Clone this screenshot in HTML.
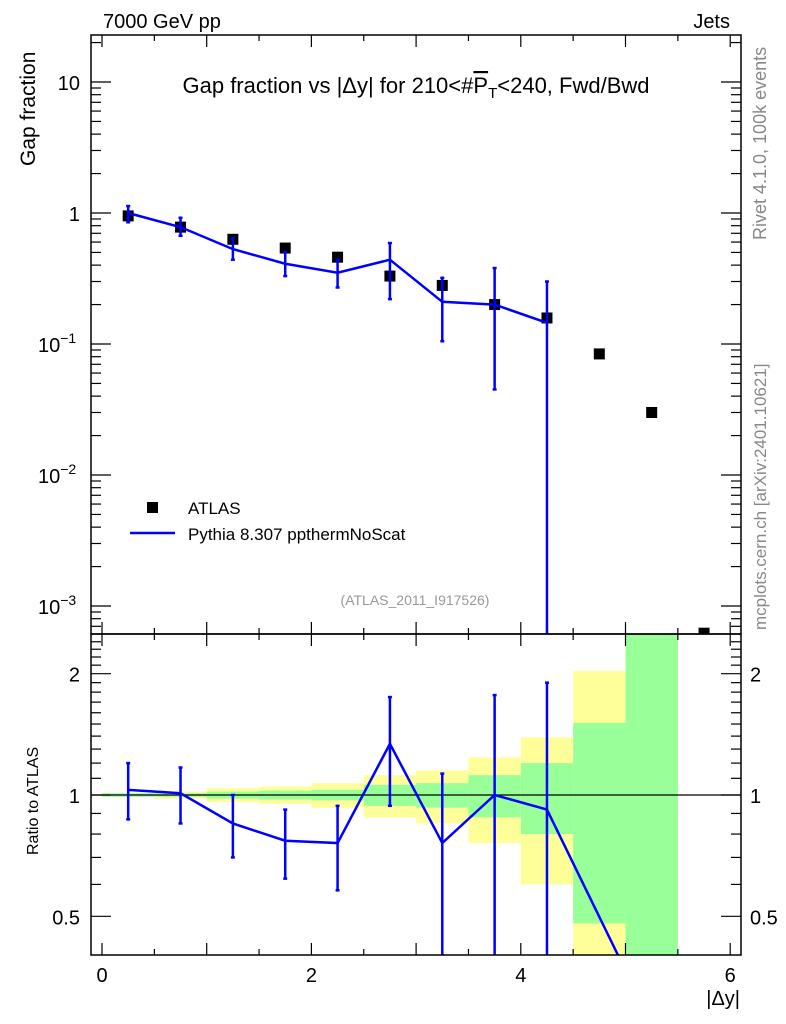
<!DOCTYPE html>
<html><head><meta charset="utf-8">
<style>
html,body{margin:0;background:#fff;overflow:hidden;width:786px;height:1024px;position:relative;}
svg{display:block;font-family:"Liberation Sans",sans-serif;}
</style></head>
<body>
<svg id="c" width="786" height="1024" viewBox="0 0 786 1024" style="position:absolute;left:0;top:0"></svg>
<script>
const xs=[0.25,0.75,1.25,1.75,2.25,2.75,3.25,3.75,4.25,4.75,5.25,5.75];
const dataVals=[0.95,0.78,0.63,0.54,0.46,0.33,0.28,0.20,0.158,0.084,0.030,0.00062];
const mcX=[0.25,0.75,1.25,1.75,2.25,2.75,3.25,3.75,4.25];
const mcVals=[1.0,0.78,0.53,0.41,0.35,0.44,0.21,0.20,0.145];
const mcHi=[1.13,0.92,0.64,0.50,0.44,0.59,0.32,0.38,0.30];
const mcLo=[0.85,0.67,0.44,0.33,0.27,0.22,0.105,0.045,0.0001];
const rX=[0.25,0.75,1.25,1.75,2.25,2.75,3.25,3.75,4.25,5.25];
const rVals=[1.03,1.01,0.85,0.77,0.76,1.34,0.76,1.0,0.92,0.27];
const rHi=[1.20,1.17,1.0,0.92,0.94,1.75,1.13,1.77,1.90,null];
const rLo=[0.87,0.85,0.70,0.62,0.58,0.94,0.01,0.01,0.01,null];
const binLo=[0,0.5,1,1.5,2,2.5,3,3.5,4,4.5,5];
const yelHi=[1.01,1.02,1.04,1.05,1.07,1.12,1.15,1.24,1.39,2.03,5];
const yelLo=[0.99,0.98,0.96,0.95,0.93,0.88,0.85,0.76,0.60,0.30,0.2];
const grnHi=[1.01,1.01,1.02,1.025,1.03,1.06,1.07,1.12,1.20,1.51,5];
const grnLo=[0.99,0.99,0.98,0.975,0.97,0.94,0.93,0.88,0.80,0.48,0.2];

const NS="http://www.w3.org/2000/svg";
const svg=document.getElementById('c');
const L=91,R=741,T=35,M=634,B=955;
const X=v=>102+104.7*v;
const Y=v=>213-131*Math.log10(v);
const RY=v=>795-403*Math.log10(v);
function mk(tag,attrs,parent){const e=document.createElementNS(NS,tag);for(const k in attrs)e.setAttribute(k,attrs[k]);(parent||svg).appendChild(e);return e;}
function txt(x,y,s,attrs){const e=mk('text',Object.assign({x:x,y:y},attrs||{}));e.innerHTML=s;return e;}

const defs=mk('defs',{});
const c1=mk('clipPath',{id:'cu'},defs);mk('rect',{x:L,y:T,width:R-L,height:M-T},c1);
const c2=mk('clipPath',{id:'cl'},defs);mk('rect',{x:L,y:M,width:R-L,height:B-M},c2);

const gb=mk('g',{'clip-path':'url(#cl)'});


binLo.forEach((b,i)=>{
  const y1=Math.max(RY(yelHi[i]),M-5),y2=Math.min(RY(yelLo[i]),B+5);
  const r=mk('rect',{x:X(b),y:y1,width:X(b+0.5)-X(b),height:y2-y1,fill:'#ffff99'},gb);
  
  
  const g1=Math.max(RY(grnHi[i]),M-5),g2=Math.min(RY(grnLo[i]),B+5);
  const g=mk('rect',{x:X(b),y:g1,width:X(b+0.5)-X(b),height:g2-g1,fill:'#99ff99'},gb);
  
  
});
mk('line',{x1:L,x2:R,y1:RY(1),y2:RY(1),stroke:'#000','stroke-width':1.2});

const gu=mk('g',{'clip-path':'url(#cu)'});
xs.forEach((x,i)=>{
  const r=mk('rect',{x:X(x)-5.5,y:Y(dataVals[i])-5.5,width:11,height:11,fill:'#000'},gu);
  
  
});
mcX.forEach((x,i)=>{
  const e=mk('line',{x1:X(x),x2:X(x),y1:Y(mcHi[i]),y2:Math.min(Y(mcLo[i]),M+5),stroke:'#0000ff','stroke-width':2.5},gu);
  
  
  mk('line',{x1:X(x)-2,x2:X(x)+2,y1:Y(mcHi[i]),y2:Y(mcHi[i]),stroke:'#0000ff','stroke-width':2.5},gu);
  mk('line',{x1:X(x)-2,x2:X(x)+2,y1:Y(mcLo[i]),y2:Y(mcLo[i]),stroke:'#0000ff','stroke-width':2.5},gu);
});
const pu=mk('polyline',{points:mcX.map((x,i)=>X(x)+','+Y(mcVals[i])).join(' '),fill:'none',stroke:'#0000ff','stroke-width':2.5},gu);



const gl=mk('g',{'clip-path':'url(#cl)'});
rX.forEach((x,i)=>{
  if(rHi[i]===null)return;
  const e=mk('line',{x1:X(x),x2:X(x),y1:RY(rHi[i]),y2:Math.min(RY(rLo[i]),B+5),stroke:'#0000ff','stroke-width':2.5},gl);
  
  
  mk('line',{x1:X(x)-2,x2:X(x)+2,y1:RY(rHi[i]),y2:RY(rHi[i]),stroke:'#0000ff','stroke-width':2.5},gl);
  mk('line',{x1:X(x)-2,x2:X(x)+2,y1:RY(rLo[i]),y2:RY(rLo[i]),stroke:'#0000ff','stroke-width':2.5},gl);
});
const pl=mk('polyline',{points:rX.map((x,i)=>X(x)+','+RY(rVals[i])).join(' '),fill:'none',stroke:'#0000ff','stroke-width':2.5},gl);



mk('rect',{x:L,y:T,width:R-L,height:M-T,fill:'none',stroke:'#000','stroke-width':1.5});
mk('rect',{x:L,y:M,width:R-L,height:B-M,fill:'none',stroke:'#000','stroke-width':1.5});

for(let v=0;v<=6.01;v+=0.5){
  const len=(Math.abs(v-Math.round(v))<0.01)?12:6;
  [[T,1],[M,-1],[M,1],[B,-1]].forEach(([y0,d])=>mk('line',{x1:X(v),x2:X(v),y1:y0,y2:y0+d*len,stroke:'#000','stroke-width':1.2}));
}
[0,2,4,6].forEach(v=>{const t=txt(X(v),982,String(v),{'font-size':20,'text-anchor':'middle'});
  });
for(let e=-4;e<=1;e++){for(let k=1;k<=9;k++){const v=k*Math.pow(10,e);const y=Y(v);if(y<T||y>M)continue;
  const len=k===1?20:10;
  mk('line',{x1:L,x2:L+len,y1:y,y2:y,stroke:'#000','stroke-width':1.2});
  mk('line',{x1:R,x2:R-len,y1:y,y2:y,stroke:'#000','stroke-width':1.2});}}
const yl=[[10,'10'],[1,'1'],[0.1,'10<tspan dy="-9" font-size="14">−1</tspan>'],[0.01,'10<tspan dy="-9" font-size="14">−2</tspan>'],[0.001,'10<tspan dy="-9" font-size="14">−3</tspan>']];
yl.forEach(([v,s])=>{const t=txt(v>=1?80:38,Y(v)+8,s,{'font-size':20,'text-anchor':v>=1?'end':'start'});
  });
const rt=[0.5,0.6,0.7,0.8,0.9,1,1.1,1.2,1.3,1.4,1.5,1.6,1.7,1.8,1.9,2,2.1,2.2,2.3,2.4];
rt.forEach(v=>{const y=RY(v);const len=(v===0.5||v===1||v===2)?20:10;
  mk('line',{x1:L,x2:L+len,y1:y,y2:y,stroke:'#000','stroke-width':1.2});
  mk('line',{x1:R,x2:R-len,y1:y,y2:y,stroke:'#000','stroke-width':1.2});});
[[0.5,'0.5'],[1,'1'],[2,'2']].forEach(([v,s])=>{
  txt(80,RY(v)+8,s,{'font-size':20,'text-anchor':'end'});
  const t=txt(750,RY(v)+8,s,{'font-size':20});
  });
</script>
<svg width="786" height="1024" style="position:absolute;left:0;top:0">
<text x="416" y="93" font-size="22" text-anchor="middle">Gap fraction vs |Δy| for 210&lt;#<tspan text-decoration="overline">P</tspan><tspan font-size="15" dy="5">T</tspan><tspan dy="-5">&lt;240, Fwd/Bwd</tspan></text>
<text x="103" y="28" font-size="20">7000 GeV pp</text>
<text x="730" y="28" font-size="20" text-anchor="end">Jets</text>
<text transform="translate(35,166) rotate(-90)" font-size="21">Gap fraction</text>
<text transform="translate(38,855) rotate(-90)" font-size="16">Ratio to ATLAS</text>
<text x="740" y="1005" font-size="20" text-anchor="end">|Δy|</text>
<text transform="translate(766,240) rotate(-90)" font-size="18" fill="#888">Rivet 4.1.0,  100k events</text>
<text transform="translate(766,630) rotate(-90)" font-size="17" fill="#888">mcplots.cern.ch [arXiv:2401.10621]</text>
<text x="415" y="605" font-size="14" fill="#999" text-anchor="middle">(ATLAS_2011_I917526)</text>
<rect x="147" y="502" width="11" height="11" fill="#000"/>
<text x="188" y="514" font-size="17">ATLAS</text>
<line x1="130" x2="175" y1="533" y2="533" stroke="#0000ff" stroke-width="2.5"/>
<text x="188" y="540" font-size="17">Pythia 8.307 ppthermNoScat</text>
</svg>
</body></html>
